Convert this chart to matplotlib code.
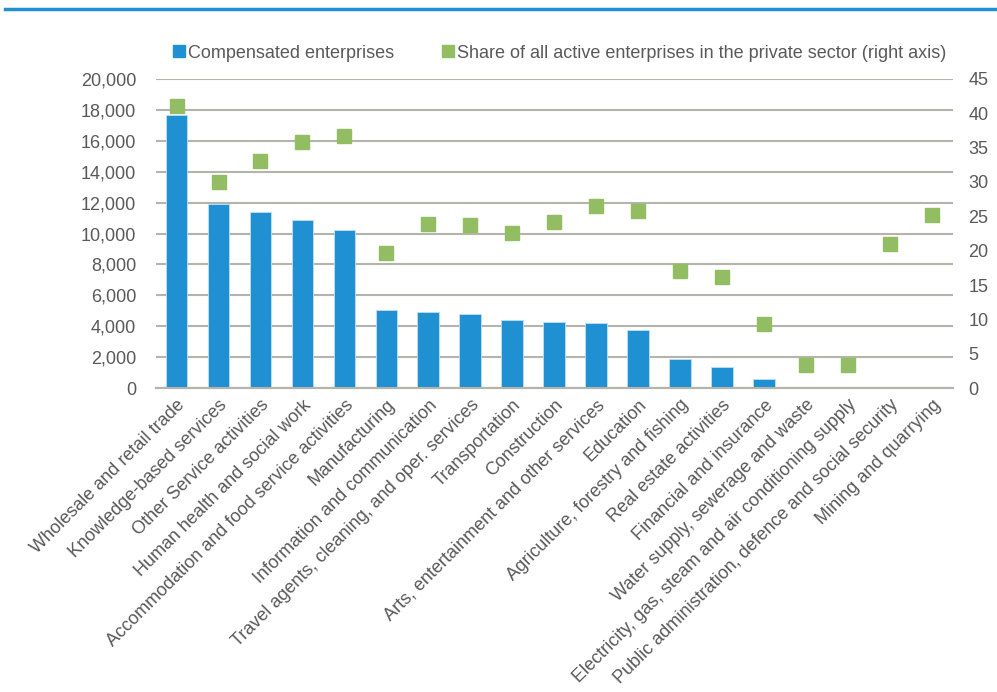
import matplotlib
matplotlib.use("Agg")
import matplotlib.pyplot as plt
from matplotlib.lines import Line2D
from matplotlib.ticker import FuncFormatter

categories = [
    "Wholesale and retail trade",
    "Knowledge-based services",
    "Other Service activities",
    "Human health and social work",
    "Accommodation and food service activities",
    "Manufacturing",
    "Information and communication",
    "Travel agents, cleaning, and oper. services",
    "Transportation",
    "Construction",
    "Arts, entertainment and other services",
    "Education",
    "Agriculture, forestry and fishing",
    "Real estate activities",
    "Financial and insurance",
    "Water supply, sewerage and waste",
    "Electricity, gas, steam and air conditioning supply",
    "Public administration, defence and social security",
    "Mining and quarrying",
]
compensated = [17650, 11900, 11420, 10850, 10250, 5030, 4940, 4830, 4400,
               4300, 4190, 3750, 1920, 1340, 580, 0, 0, 0, 0]
share = [41.0, 30.0, 33.1, 35.8, 36.7, 19.7, 23.9, 23.7, 22.6,
         24.2, 26.5, 25.8, 17.0, 16.2, 9.3, 3.4, 3.4, 21.0, 25.2]

left_ticks = list(range(0, 20001, 2000))
right_ticks = list(range(0, 46, 5))

blue = "#1f90d2"
green = "#92bd63"
grey_text = "#595959"
grid_col = "#b4b4ac"

plt.rcParams["font.family"] = ["Liberation Sans Narrow", "Liberation Sans", "DejaVu Sans"]

fig = plt.figure(figsize=(9.97, 6.92), dpi=100)
ax = fig.add_axes([0.156, 0.439, 0.8, 0.447])
ax2 = ax.twinx()

x = list(range(len(categories)))
ax.bar(x, compensated, width=0.52, color=blue, edgecolor="#bfe0f5", linewidth=0.6, zorder=3)
ax2.plot(x, share, linestyle="none", marker="s", markersize=10, color=green, zorder=4)

ax.set_xlim(-0.5, len(categories) - 0.5)
ax.set_ylim(0, 20000)
ax2.set_ylim(0, 45)
ax.set_yticks(left_ticks)
ax2.set_yticks(right_ticks)
ax.yaxis.set_major_formatter(FuncFormatter(lambda v, p: f"{int(v):,}"))

ax.grid(axis="y", color=grid_col, linewidth=1.5, zorder=0)
ax.set_axisbelow(True)
for a in (ax, ax2):
    for s in ("left", "right", "top"):
        a.spines[s].set_visible(False)
    a.spines["bottom"].set_color(grid_col)
    a.spines["bottom"].set_linewidth(1.5)
    a.tick_params(length=0, labelsize=13, colors=grey_text)

ax.tick_params(axis="y", pad=14)
ax2.tick_params(axis="y", pad=11)

ax.set_xticks(x)
ax.set_xticklabels(categories, rotation=45, ha="right", rotation_mode="anchor",
                   fontsize=13, color=grey_text)
ax.tick_params(axis="x", pad=6)

handles = [
    Line2D([], [], linestyle="none", marker="s", markersize=8, color=blue),
    Line2D([], [], linestyle="none", marker="s", markersize=8, color=green),
]
fig.legend(handles, ["Compensated enterprises",
                     "Share of all active enterprises in the private sector (right axis)"],
           loc="center left", bbox_to_anchor=(0.156, 0.923), ncol=2, frameon=False,
           fontsize=13, labelcolor=grey_text, handletextpad=0.1, columnspacing=2.6,
           handlelength=0.8)

fig.add_artist(Line2D([0.005, 1.0], [0.987, 0.987], color=blue, linewidth=2.5,
                      transform=fig.transFigure))

fig.savefig("out.png", dpi=100)
